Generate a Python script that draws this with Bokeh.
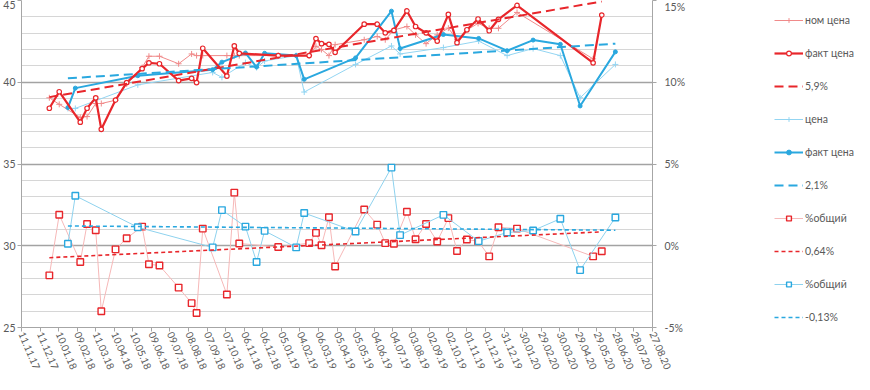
import numpy as np
import pandas as pd
from bokeh.plotting import figure
from bokeh.layouts import row
from bokeh.models import (Range1d, LinearAxis, FixedTicker, Grid, Legend, LegendItem,
                          PrintfTickFormatter, DatetimeTickFormatter)
from bokeh.embed import file_html
from bokeh.resources import INLINE

# ---------------- data ----------------
tick_labels = ["11.11.17", "11.12.17", "10.01.18", "09.02.18", "11.03.18", "10.04.18",
               "10.05.18", "09.06.18", "09.07.18", "08.08.18", "07.09.18", "07.10.18",
               "06.11.18", "06.12.18", "05.01.19", "04.02.19", "06.03.19", "05.04.19",
               "05.05.19", "04.06.19", "04.07.19", "03.08.19", "02.09.19", "02.10.19",
               "01.11.19", "01.12.19", "31.12.19", "30.01.20", "29.02.20", "30.03.20",
               "29.04.20", "29.05.20", "28.06.20", "28.07.20", "27.08.20"]

red_dates = ["2017-12-26", "2018-01-11", "2018-02-14", "2018-02-25", "2018-03-11", "2018-03-20",
             "2018-04-12", "2018-04-30", "2018-05-25", "2018-06-05", "2018-06-22", "2018-07-23",
             "2018-08-13", "2018-08-21", "2018-08-31", "2018-10-09", "2018-10-21", "2018-10-29",
             "2018-12-31", "2019-02-19", "2019-03-02", "2019-03-11", "2019-03-23", "2019-04-02",
             "2019-05-19", "2019-06-09", "2019-06-22", "2019-07-06", "2019-07-27", "2019-08-10",
             "2019-08-27", "2019-09-14", "2019-10-02", "2019-10-16", "2019-11-01", "2019-11-19",
             "2019-12-07", "2019-12-22", "2020-01-21", "2020-05-23", "2020-06-06"]
red_nom = [39.05, 38.65, 37.85, 37.9, 38.7, 38.7, 38.9, 39.9, 40.9, 41.59,
           41.59, 41.13, 41.73, 41.63, 41.63, 41.63, 41.63, 41.63, 41.63, 41.63,
           42.2, 42.0, 41.63, 42.3, 42.6, 42.8, 42.6, 43.2, 43.41, 42.9,
           42.36, 42.9, 43.31, 42.6, 43.2, 43.6, 43.3, 43.3, 44.27, 41.43, float("nan")]
red_fact = [38.41, 39.42, 37.56, 38.41, 39.05, 37.12, 38.91, 39.98, 40.83, 41.19,
            41.13, 40.10, 40.24, 39.98, 42.08, 40.38, 42.22, 41.77, 41.63, 41.63,
            42.67, 42.36, 42.32, 41.83, 43.55, 43.55, 43.02, 43.17, 44.36, 43.41,
            43.02, 42.52, 44.15, 42.42, 43.21, 43.87, 43.15, 43.85, 44.70, 41.19, 44.11]
red_pct = [-1.81, 1.90, -0.99, 1.33, 0.95, -4.01, -0.22, 0.46, 1.17, -1.13,
           -1.21, -2.56, -3.51, -4.11, 1.05, -2.98, 3.25, 0.14, -0.08, 0.16,
           0.79, 0.03, 1.74, -1.27, 2.22, 1.29, 0.16, 0.12, 2.08, 0.40,
           1.33, 0.26, 1.69, -0.32, 0.38, 0.28, -0.65, 1.13, 1.05, -0.65, -0.34]

blue_dates = ["2018-01-25", "2018-02-06", "2018-05-18", "2018-09-16", "2018-10-01", "2018-11-08",
              "2018-11-26", "2018-12-09", "2019-01-29", "2019-02-11", "2019-05-05", "2019-07-02",
              "2019-07-16", "2019-09-24", "2019-11-20", "2020-01-05", "2020-02-16", "2020-03-31",
              "2020-05-02", "2020-06-28"]
blue_price = [38.4, 38.4, 39.84, 40.6, 40.3, 41.2, 40.9, 41.3, 41.63, 39.4,
              41.09, 42.22, 41.73, 42.12, 42.52, 41.63, 42.06, 41.63, 39.05, 41.09]
blue_fact = [38.45, 39.64, 40.4, 40.77, 41.23, 41.79, 40.93, 41.77, 41.63, 40.18,
             41.49, 44.35, 42.06, 42.92, 42.68, 41.93, 42.58, 42.32, 38.55, 41.86]
blue_pct = [0.12, 3.06, 1.13, -0.10, 2.18, 1.17, -0.99, 0.91, -0.10, 2.0,
            0.87, 4.78, 0.65, 1.89, 0.28, 0.81, 0.93, 1.65, -1.49, 1.73]

trend_red_price = [39.09, 44.94]    # 5,9%
trend_blue_price = [40.24, 42.36]   # 2,1%
trend_red_pct = [-0.73, 0.85]       # 0,64%
trend_blue_pct = [1.21, 0.95]       # -0,13%

legend_labels = ["ном цена", "факт цена", "5,9%", "цена", "факт цена", "2,1%",
                 "%общий", "0,64%", "%общий", "-0,13%"]

# ---------------- styling ----------------
FONT = "Lato"
TXT = "#595959"
RED = "#E8262B"
RED_L = "#F08A8A"
RED_P = "#F6B8B8"
BLUE = "#2AA8DF"
BLUE_L = "#93D5F2"
BLUE_P = "#8ED2EE"

rd = pd.to_datetime(red_dates)
bd = pd.to_datetime(blue_dates)
ticks_dt = pd.to_datetime(tick_labels, format="%d.%m.%y")
epoch = pd.Timestamp("1970-01-01")
ticks_ms = [float((t - epoch) / pd.Timedelta(milliseconds=1)) for t in ticks_dt]

P_W = 688
H = 374
p = figure(width=P_W, height=H, x_axis_type="datetime", output_backend="svg",
           toolbar_location=None,
           x_range=Range1d(ticks_dt[0], ticks_dt[-1]), y_range=Range1d(25, 45),
           min_border_left=0, min_border_right=35, min_border_top=0, min_border_bottom=0)
p.outline_line_color = None
p.background_fill_color = "white"
p.border_fill_color = "white"
p.extra_y_ranges = {"pct": Range1d(-5, 15)}

# grids
p.xgrid.visible = False
p.ygrid.ticker = FixedTicker(ticks=list(range(25, 46)))
p.ygrid.grid_line_color = "#D6D6D6"
p.ygrid.grid_line_width = 1
major_grid = Grid(dimension=1, ticker=FixedTicker(ticks=[25, 30, 35, 40, 45]),
                  grid_line_color="#A3A3A3", grid_line_width=1.5)
p.add_layout(major_grid)

# axes
def style_axis(ax, size="10.5px"):
    ax.axis_line_color = "#A6A6A6"
    ax.major_tick_line_color = "#A6A6A6"
    ax.minor_tick_line_color = None
    ax.major_tick_in = 0
    ax.major_tick_out = 4
    ax.major_label_text_font = FONT
    ax.major_label_text_font_size = size
    ax.major_label_text_color = TXT

yl = p.yaxis[0]
yl.ticker = FixedTicker(ticks=[25, 30, 35, 40, 45])
style_axis(yl)
yl.major_label_standoff = 2

xa = p.xaxis[0]
xa.ticker = FixedTicker(ticks=ticks_ms)
fmt = "%d.%m.%y"
xa.formatter = DatetimeTickFormatter(days=fmt, months=fmt, years=fmt, hours=fmt,
                                     minutes=fmt, seconds=fmt, milliseconds=fmt,
                                     microseconds=fmt, minsec=fmt, hourmin=fmt)
style_axis(xa, "10px")
xa.major_label_orientation = -1.17
xa.major_label_standoff = 1

yr = LinearAxis(y_range_name="pct", ticker=FixedTicker(ticks=[-5, 0, 5, 10, 15]),
                formatter=PrintfTickFormatter(format="%d%%"))
style_axis(yr)
yr.major_label_standoff = 8
p.add_layout(yr, "right")

# ---------------- glyphs ----------------
def draw(fig, pct_range=None):
    r = {}
    kw = {"y_range_name": pct_range} if pct_range else {}
    r["rpct_l"] = fig.line(rd, red_pct, line_color=RED_P, line_width=1, **kw)
    r["rpct_m"] = fig.scatter(rd, red_pct, marker="square", size=6.5,
                              line_color=RED, fill_color="white", line_width=1.4, **kw)
    r["bpct_l"] = fig.line(bd, blue_pct, line_color=BLUE_P, line_width=1, **kw)
    r["bpct_m"] = fig.scatter(bd, blue_pct, marker="square", size=6.5,
                              line_color=BLUE, fill_color="white", line_width=1.4, **kw)
    r["rpct_t"] = fig.line([rd[0], rd[-1]], trend_red_pct, line_color=RED,
                           line_width=1.6, line_dash="4 3", **kw)
    r["bpct_t"] = fig.line([bd[0], bd[-1]], trend_blue_pct, line_color=BLUE,
                           line_width=1.6, line_dash="4 3", **kw)
    r["bprice_l"] = fig.line(bd, blue_price, line_color=BLUE_L, line_width=1)
    r["bprice_m"] = fig.scatter(bd, blue_price, marker="cross", size=6,
                                line_color=BLUE_L, line_width=1)
    r["rnom_l"] = fig.line(rd, red_nom, line_color=RED_L, line_width=1)
    r["rnom_m"] = fig.scatter(rd, red_nom, marker="cross", size=6,
                              line_color=RED_L, line_width=1)
    r["bfact_l"] = fig.line(bd, blue_fact, line_color=BLUE, line_width=2)
    r["bfact_m"] = fig.scatter(bd, blue_fact, marker="circle", size=4,
                               line_color=BLUE, fill_color=BLUE, line_width=1)
    r["rfact_l"] = fig.line(rd, red_fact, line_color=RED, line_width=2.2)
    r["rfact_m"] = fig.scatter(rd, red_fact, marker="circle", size=4.5,
                               line_color=RED, fill_color="white", line_width=1.2)
    r["rtrend"] = fig.line([rd[0], rd[-1]], trend_red_price, line_color=RED,
                           line_width=2, line_dash="9 5")
    r["btrend"] = fig.line([bd[0], bd[-1]], trend_blue_price, line_color=BLUE,
                           line_width=2, line_dash="9 5")
    return r

draw(p, pct_range="pct")

# ---------------- legend (separate panel; its data lies outside its visible range) ----------------
lf = figure(width=854 - P_W, height=H, x_axis_type="datetime", output_backend="svg",
            toolbar_location=None, x_axis_location=None, y_axis_location=None,
            x_range=Range1d(ticks_dt[0], ticks_dt[-1]), y_range=Range1d(1000, 1001),
            min_border_left=0, min_border_right=0, min_border_top=0, min_border_bottom=0)
lf.grid.visible = False
lf.outline_line_color = None
lr = draw(lf)
groups = [["rnom_l", "rnom_m"], ["rfact_l", "rfact_m"], ["rtrend"],
          ["bprice_l", "bprice_m"], ["bfact_l", "bfact_m"], ["btrend"],
          ["rpct_l", "rpct_m"], ["rpct_t"], ["bpct_l", "bpct_m"], ["bpct_t"]]
items = [LegendItem(label=lab, renderers=[lr[k] for k in g])
         for lab, g in zip(legend_labels, groups)]
legend = Legend(items=items, location=(86, 0), orientation="vertical")
legend.glyph_width = 29
legend.glyph_height = 12
legend.label_height = 20
legend.spacing = 13
legend.padding = 0
legend.margin = 0
legend.label_standoff = 2
legend.border_line_color = None
legend.background_fill_alpha = 0
legend.label_text_font = FONT
legend.label_text_font_size = "10.5px"
legend.label_text_color = TXT
lf.add_layout(legend, "center")

layout = row(p, lf, spacing=0)
open("out.html", "w").write(file_html(layout, INLINE))
